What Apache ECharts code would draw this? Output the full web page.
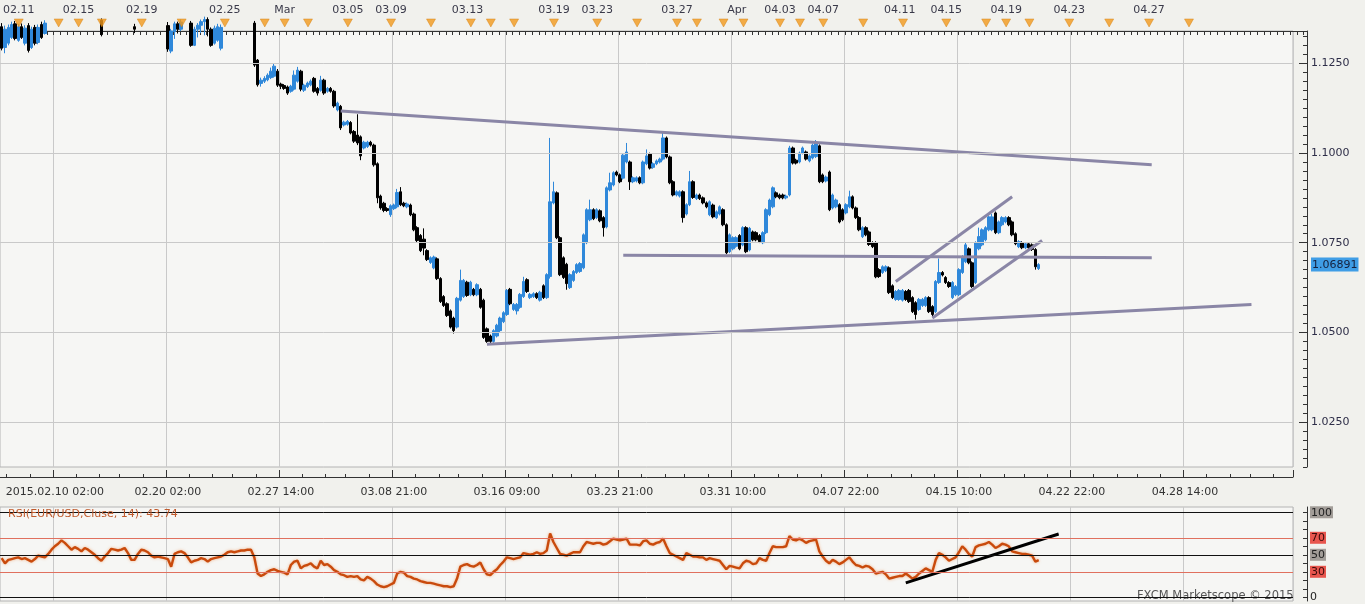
<!DOCTYPE html>
<html><head><meta charset="utf-8">
<script src="https://cdn.jsdelivr.net/npm/echarts@6/dist/echarts.min.js"></script>
<style>html,body{margin:0;padding:0;background:#f1f1ed;}#c{width:1365px;height:604px;}</style>
</head><body><div id="c"></div>
<script>
// [open, close, low, high] per 4h bar
const candles = [
[1.1352,1.1292,1.1286,1.1362],[1.1294,1.1345,1.1278,1.1355],[1.1306,1.1350,1.1300,1.1358],[1.1322,1.1358,1.1318,1.1366],
[1.1360,1.1319,1.1314,1.1368],[1.1314,1.1352,1.1310,1.1360],[1.1352,1.1322,1.1318,1.1361],[1.1306,1.1348,1.1300,1.1356],
[1.1355,1.1286,1.1280,1.1362],[1.1294,1.1345,1.1290,1.1352],[1.1350,1.1306,1.1300,1.1357],[1.1308,1.1350,1.1303,1.1358],
[1.1358,1.1322,1.1318,1.1366],[1.1333,1.1362,1.1330,1.1370],[1.1355,1.1372,1.1347,1.1380],[1.1372,1.1388,1.1365,1.1395],
[1.1388,1.1402,1.1380,1.1410],[1.1402,1.1395,1.1388,1.1412],[1.1395,1.1420,1.1390,1.1428],[1.1420,1.1410,1.1402,1.1430],
[1.1410,1.1432,1.1405,1.1440],[1.1432,1.1418,1.1410,1.1438],[1.1418,1.1405,1.1398,1.1425],[1.1405,1.1390,1.1382,1.1412],
[1.1390,1.1378,1.1370,1.1398],[1.1378,1.1385,1.1368,1.1392],[1.1385,1.1368,1.1360,1.1390],[1.1368,1.1375,1.1358,1.1382],
[1.1375,1.1362,1.1352,1.1380],[1.1362,1.1370,1.1350,1.1378],[1.1370,1.1330,1.1325,1.1375],[1.1348,1.1368,1.1342,1.1376],
[1.1368,1.1385,1.1360,1.1392],[1.1385,1.1378,1.1370,1.1395],[1.1378,1.1392,1.1372,1.1400],[1.1392,1.1380,1.1372,1.1398],
[1.1380,1.1366,1.1358,1.1388],[1.1366,1.1375,1.1360,1.1382],[1.1375,1.1360,1.1352,1.1380],[1.1360,1.1352,1.1345,1.1366],
[1.1352,1.1345,1.1334,1.1360],[1.1345,1.1360,1.1342,1.1368],[1.1360,1.1378,1.1355,1.1385],[1.1378,1.1390,1.1370,1.1398],
[1.1390,1.1382,1.1375,1.1400],[1.1382,1.1370,1.1362,1.1388],[1.1370,1.1380,1.1364,1.1388],[1.1380,1.1372,1.1365,1.1386],
[1.1372,1.1365,1.1356,1.1378],[1.1365,1.1358,1.1350,1.1370],[1.1355,1.1290,1.1282,1.1365],[1.1284,1.1340,1.1278,1.1346],
[1.1338,1.1360,1.1318,1.1366],[1.1360,1.1345,1.1333,1.1366],[1.1345,1.1365,1.1340,1.1372],[1.1365,1.1378,1.1358,1.1385],
[1.1378,1.1360,1.1352,1.1384],[1.1362,1.1300,1.1296,1.1368],[1.1300,1.1345,1.1298,1.1352],[1.1345,1.1356,1.1322,1.1362],
[1.1356,1.1366,1.1334,1.1372],[1.1366,1.1372,1.1328,1.1380],[1.1372,1.1345,1.1325,1.1378],[1.1345,1.1300,1.1296,1.1350],
[1.1306,1.1348,1.1302,1.1355],[1.1314,1.1352,1.1310,1.1360],[1.1292,1.1350,1.1286,1.1358],[1.1350,1.1372,1.1345,1.1380],
[1.1372,1.1390,1.1366,1.1398],[1.1390,1.1382,1.1374,1.1398],[1.1382,1.1395,1.1376,1.1402],[1.1395,1.1385,1.1378,1.1400],
[1.1385,1.1392,1.1380,1.1398],[1.1392,1.1378,1.1370,1.1396],[1.1378,1.1370,1.1362,1.1385],[1.1370,1.1362,1.1352,1.1378],
[1.1362,1.1245,1.1240,1.1368],[1.1259,1.1190,1.1185,1.1262],[1.1194,1.1203,1.1185,1.1210],[1.1200,1.1208,1.1195,1.1214],
[1.1204,1.1217,1.1200,1.1222],[1.1210,1.1228,1.1206,1.1238],[1.1214,1.1242,1.1210,1.1250],[1.1228,1.1189,1.1184,1.1234],
[1.1192,1.1186,1.1178,1.1196],[1.1188,1.1180,1.1176,1.1192],[1.1184,1.1167,1.1162,1.1188],[1.1172,1.1186,1.1168,1.1190],
[1.1178,1.1217,1.1174,1.1230],[1.1200,1.1231,1.1196,1.1240],[1.1228,1.1178,1.1172,1.1232],[1.1175,1.1189,1.1170,1.1193],
[1.1185,1.1195,1.1181,1.1199],[1.1190,1.1200,1.1186,1.1205],[1.1208,1.1172,1.1168,1.1212],[1.1180,1.1167,1.1160,1.1184],
[1.1175,1.1203,1.1171,1.1215],[1.1203,1.1167,1.1162,1.1207],[1.1172,1.1180,1.1168,1.1184],[1.1180,1.1172,1.1168,1.1184],
[1.1172,1.1131,1.1126,1.1176],[1.1120,1.1139,1.1116,1.1143],[1.1130,1.1070,1.1064,1.1134],[1.1078,1.1086,1.1074,1.1090],
[1.1080,1.1088,1.1076,1.1092],[1.1085,1.1056,1.1052,1.1089],[1.1060,1.1033,1.1028,1.1064],[1.1050,1.1028,1.1022,1.1108],
[1.1045,1.0992,1.0980,1.1049],[1.1014,1.1030,1.1010,1.1034],[1.1018,1.1030,1.1014,1.1034],[1.1030,1.1022,1.1018,1.1034],
[1.1022,1.0967,1.0962,1.1026],[1.0970,1.0875,1.0860,1.0974],[1.0880,1.0847,1.0842,1.0884],[1.0860,1.0840,1.0835,1.0864],
[1.0845,1.0840,1.0836,1.0849],[1.0828,1.0853,1.0822,1.0857],[1.0845,1.0855,1.0841,1.0859],[1.0850,1.0890,1.0846,1.0900],
[1.0892,1.0856,1.0852,1.0905],[1.0860,1.0853,1.0849,1.0864],[1.0850,1.0858,1.0846,1.0862],[1.0855,1.0828,1.0824,1.0859],
[1.0830,1.0786,1.0782,1.0834],[1.0792,1.0756,1.0752,1.0796],[1.0770,1.0728,1.0724,1.0774],[1.0760,1.0735,1.0715,1.0790],
[1.0728,1.0703,1.0699,1.0732],[1.0695,1.0708,1.0691,1.0712],[1.0680,1.0710,1.0676,1.0714],[1.0705,1.0650,1.0646,1.0709],
[1.0650,1.0586,1.0582,1.0654],[1.0600,1.0575,1.0571,1.0604],[1.0580,1.0547,1.0543,1.0584],[1.0560,1.0515,1.0511,1.0564],
[1.0540,1.0505,1.0497,1.0544],[1.0515,1.0595,1.0511,1.0599],[1.0590,1.0645,1.0586,1.0675],[1.0600,1.0645,1.0596,1.0649],
[1.0640,1.0603,1.0599,1.0644],[1.0605,1.0640,1.0601,1.0644],[1.0620,1.0605,1.0601,1.0624],[1.0605,1.0633,1.0601,1.0637],
[1.0620,1.0570,1.0566,1.0624],[1.0590,1.0486,1.0482,1.0594],[1.0510,1.0475,1.0471,1.0514],[1.0490,1.0475,1.0465,1.0494],
[1.0475,1.0505,1.0471,1.0509],[1.0490,1.0520,1.0486,1.0524],[1.0505,1.0540,1.0501,1.0544],[1.0530,1.0555,1.0526,1.0559],
[1.0550,1.0617,1.0546,1.0621],[1.0620,1.0580,1.0576,1.0624],[1.0564,1.0578,1.0560,1.0582],[1.0560,1.0578,1.0550,1.0582],
[1.0570,1.0606,1.0566,1.0610],[1.0600,1.0642,1.0596,1.0655],[1.0647,1.0614,1.0610,1.0651],[1.0597,1.0606,1.0593,1.0610],
[1.0600,1.0608,1.0596,1.0612],[1.0608,1.0597,1.0593,1.0612],[1.0590,1.0612,1.0586,1.0616],[1.0630,1.0597,1.0593,1.0634],
[1.0597,1.0661,1.0593,1.0665],[1.0656,1.0864,1.0650,1.1042],[1.0861,1.0892,1.0857,1.0920],[1.0889,1.0764,1.0760,1.0893],
[1.0764,1.0661,1.0657,1.0768],[1.0708,1.0653,1.0649,1.0712],[1.0690,1.0636,1.0619,1.0694],[1.0625,1.0661,1.0621,1.0665],
[1.0645,1.0670,1.0641,1.0674],[1.0667,1.0689,1.0663,1.0693],[1.0670,1.0692,1.0666,1.0696],[1.0680,1.0772,1.0676,1.0776],
[1.0750,1.0842,1.0746,1.0846],[1.0814,1.0842,1.0810,1.0870],[1.0842,1.0817,1.0813,1.0846],[1.0820,1.0842,1.0816,1.0846],
[1.0839,1.0811,1.0807,1.0843],[1.0820,1.0792,1.0767,1.0824],[1.0794,1.0903,1.0790,1.0907],[1.0897,1.0917,1.0893,1.0945],
[1.0911,1.0945,1.0907,1.0949],[1.0947,1.0939,1.0935,1.0951],[1.0939,1.0920,1.0916,1.0943],[1.0930,1.0994,1.0926,1.0998],
[1.0975,1.1003,1.0971,1.1028],[1.0975,1.0920,1.0897,1.0979],[1.0920,1.0931,1.0916,1.0935],[1.0922,1.0931,1.0918,1.0935],
[1.0931,1.0917,1.0913,1.0935],[1.0917,1.0975,1.0913,1.0979],[1.0970,1.0992,1.0966,1.1010],[1.0997,1.0958,1.0954,1.1001],
[1.0960,1.0970,1.0956,1.0974],[1.0970,1.0978,1.0966,1.0982],[1.0975,1.0983,1.0971,1.0987],[1.0983,1.1042,1.0979,1.1058],
[1.1042,1.0989,1.0985,1.1046],[1.0989,1.0917,1.0913,1.0993],[1.0920,1.0883,1.0879,1.0924],[1.0883,1.0892,1.0879,1.0896],
[1.0880,1.0892,1.0876,1.0896],[1.0892,1.0820,1.0806,1.0896],[1.0830,1.0856,1.0826,1.0860],[1.0856,1.0920,1.0852,1.0950],
[1.0920,1.0876,1.0872,1.0924],[1.0873,1.0883,1.0869,1.0887],[1.0883,1.0873,1.0869,1.0887],[1.0875,1.0861,1.0857,1.0879],
[1.0861,1.0850,1.0846,1.0865],[1.0828,1.0864,1.0824,1.0868],[1.0855,1.0822,1.0818,1.0859],[1.0820,1.0836,1.0816,1.0840],
[1.0830,1.0850,1.0826,1.0854],[1.0842,1.0800,1.0796,1.0846],[1.0800,1.0722,1.0718,1.0804],[1.0725,1.0772,1.0721,1.0776],
[1.0733,1.0764,1.0729,1.0768],[1.0740,1.0764,1.0736,1.0768],[1.0770,1.0733,1.0729,1.0774],[1.0744,1.0792,1.0740,1.0796],
[1.0792,1.0725,1.0721,1.0796],[1.0730,1.0790,1.0726,1.0794],[1.0780,1.0758,1.0754,1.0784],[1.0778,1.0758,1.0754,1.0782],
[1.0770,1.0753,1.0749,1.0774],[1.0750,1.0778,1.0746,1.0782],[1.0778,1.0842,1.0774,1.0846],[1.0828,1.0869,1.0824,1.0873],
[1.0850,1.0903,1.0846,1.0907],[1.0889,1.0878,1.0874,1.0893],[1.0883,1.0875,1.0871,1.0887],[1.0883,1.0875,1.0871,1.0887],
[1.0875,1.0880,1.0871,1.0884],[1.0883,1.1014,1.0879,1.1020],[1.1014,1.0972,1.0968,1.1018],[1.0980,1.0972,1.0968,1.0984],
[1.0975,1.1000,1.0971,1.1004],[1.1000,1.1014,1.0996,1.1018],[1.1003,1.0983,1.0979,1.1007],[1.0978,1.0992,1.0974,1.0996],
[1.0986,1.1022,1.0982,1.1026],[1.0990,1.1030,1.0986,1.1036],[1.1020,1.0920,1.0916,1.1024],[1.0939,1.0920,1.0916,1.0943],
[1.0922,1.0933,1.0918,1.0937],[1.0947,1.0842,1.0838,1.0951],[1.0847,1.0883,1.0843,1.0887],[1.0850,1.0869,1.0846,1.0873],
[1.0856,1.0808,1.0804,1.0860],[1.0842,1.0814,1.0810,1.0846],[1.0833,1.0856,1.0829,1.0860],[1.0850,1.0878,1.0846,1.0895],
[1.0878,1.0847,1.0843,1.0882],[1.0847,1.0820,1.0816,1.0851],[1.0820,1.0786,1.0782,1.0824],[1.0767,1.0792,1.0763,1.0796],
[1.0792,1.0772,1.0768,1.0796],[1.0780,1.0745,1.0741,1.0784],[1.0750,1.0739,1.0735,1.0754],[1.0750,1.0655,1.0651,1.0754],
[1.0675,1.0656,1.0652,1.0679],[1.0667,1.0683,1.0663,1.0687],[1.0672,1.0683,1.0668,1.0687],[1.0680,1.0611,1.0607,1.0684],
[1.0630,1.0597,1.0593,1.0634],[1.0592,1.0614,1.0588,1.0618],[1.0592,1.0617,1.0588,1.0621],[1.0590,1.0617,1.0586,1.0621],
[1.0614,1.0592,1.0588,1.0618],[1.0617,1.0586,1.0582,1.0621],[1.0597,1.0558,1.0554,1.0601],[1.0583,1.0550,1.0536,1.0587],
[1.0564,1.0592,1.0560,1.0596],[1.0575,1.0592,1.0571,1.0596],[1.0575,1.0597,1.0571,1.0601],[1.0597,1.0558,1.0554,1.0601],
[1.0572,1.0550,1.0544,1.0576],[1.0558,1.0642,1.0554,1.0646],[1.0639,1.0667,1.0635,1.0706],[1.0667,1.0660,1.0656,1.0671],
[1.0653,1.0639,1.0635,1.0657],[1.0639,1.0628,1.0624,1.0643],[1.0597,1.0639,1.0593,1.0643],[1.0605,1.0628,1.0601,1.0632],
[1.0605,1.0675,1.0601,1.0679],[1.0667,1.0711,1.0663,1.0715],[1.0697,1.0744,1.0693,1.0750],[1.0733,1.0694,1.0690,1.0737],
[1.0694,1.0628,1.0624,1.0698],[1.0639,1.0750,1.0635,1.0754],[1.0733,1.0767,1.0729,1.0792],[1.0744,1.0786,1.0740,1.0790],
[1.0758,1.0792,1.0754,1.0796],[1.0786,1.0822,1.0782,1.0826],[1.0786,1.0822,1.0782,1.0830],[1.0833,1.0778,1.0774,1.0837],
[1.0778,1.0808,1.0774,1.0812],[1.0800,1.0820,1.0796,1.0824],[1.0808,1.0820,1.0804,1.0824],[1.0820,1.0800,1.0796,1.0824],
[1.0808,1.0772,1.0768,1.0812],[1.0775,1.0747,1.0743,1.0779],[1.0739,1.0753,1.0735,1.0757],[1.0750,1.0736,1.0732,1.0754],
[1.0736,1.0747,1.0732,1.0751],[1.0747,1.0736,1.0732,1.0751],[1.0744,1.0731,1.0727,1.0748],[1.0731,1.0683,1.0675,1.0735],
[1.0678,1.06891,1.0674,1.0693]
];
const rsi = [
46,40,44,45,46,47,45,46,44,42,45,49,48,47,51,56,60,63,67,64,
60,56,59,57,54,58,56,53,50,46,43,48,52,57,56,55,56,58,52,44,
44,51,56,55,53,49,47,48,47,46,45,36,51,53,54,52,47,41,43,44,
46,45,42,45,46,47,48,50,53,54,53,54,55,55,56,56,47,28,25,27,
30,32,33,31,30,29,27,38,42,43,34,37,38,40,36,34,43,38,39,36,
32,30,27,26,24,25,24,25,21,20,24,22,19,15,13,12,13,15,17,28,
30,29,25,24,22,21,19,18,17,17,16,15,14,13,13,12,13,22,36,38,
39,37,36,38,41,33,27,26,30,33,38,42,47,46,45,46,47,52,51,50,
51,53,51,52,55,75,65,58,51,50,49,51,53,53,53,60,65,64,63,64,
64,62,63,66,69,68,67,68,69,62,62,62,61,66,67,63,62,64,65,69,
60,52,50,48,46,44,52,50,48,48,47,47,44,46,45,44,43,38,33,37,
36,35,34,40,43,42,39,40,46,44,43,52,60,59,59,59,60,72,68,67,
69,67,64,66,67,68,54,48,43,40,44,42,39,41,44,47,42,38,37,35,
37,36,33,28,29,30,27,22,23,24,25,25,28,25,22,24,28,31,34,32,
30,44,52,50,47,43,45,47,53,60,56,51,48,59,61,62,63,65,62,58,
60,63,62,60,54,53,52,51,51,50,49,42,43.74
];
const priceTicks = [1.025, 1.05, 1.075, 1.1, 1.125];
const lastPrice = 1.06891;
const bottomLabels = ['2015.02.10 02:00','02.20 02:00','02.27 14:00','03.08 21:00','03.16 09:00','03.23 21:00','03.31 10:00','04.07 22:00','04.15 10:00','04.22 22:00','04.28 14:00'];
const bottomLabelIdx = [16,50,84,118,152,186,220,254,288,322,356];
const topLabels = ['02.11','02.15','02.19','02.25','Mar','03.05','03.09','03.13','03.19','03.23','03.27','Apr','04.03','04.07','04.11','04.15','04.19','04.23','04.27'];
const topLabelIdx = [5,23,42,67,85,104,117,140,166,179,203,221,234,247,270,284,302,321,345];
const eventIdx = [5,17,23,30,42,54,67,79,85,92,104,117,129,141,147,154,166,179,191,203,209,217,223,234,240,247,259,271,284,296,302,309,321,333,345,357];
const trendLines = [
  [[102,1.1117],[346,1.0967]],
  [[187,1.0715],[346,1.0708]],
  [[146,1.0467],[376,1.0578]],
  [[269,1.0642],[304,1.0878]],
  [[280,1.0540],[313,1.0756]]
];
const rsiTrend = [[272,17],[318,74.5]];
const rsiLevels = [100,70,50,30,0];
const rsiLabelVals = [0,30,50,70,100];

const N_MAIN = 389, N_TOP = 393;
const cats = Array.from({length:N_MAIN},(_,i)=>String(i));
const topCats = Array.from({length:N_TOP},(_,i)=>String(i));
const FONT = 'DejaVu Sans';
const isGrid = i => bottomLabelIdx.indexOf(i) >= 0;
const isMinor = i => [7,14,20,27].indexOf(((i-16)%34+34)%34) >= 0;
const GRIDC = '#c9c9c9';

const chart = echarts.init(document.getElementById('c'));
chart.setOption({
  animation:false,
  backgroundColor:'#f1f1ed',
  title:{text:'RSI(EUR/USD,Cluse, 14): 43.74', left:8, top:509, padding:0,
    textStyle:{color:'#c05a2c', fontSize:11, fontWeight:'normal', fontFamily:FONT}},
  graphic:[{type:'text', left:1137, top:590, style:{text:'FXCM Marketscope © 2015', fill:'#555', font:'11.5px "DejaVu Sans"'}}],
  grid:[
    {left:-1, top:31, width:1294, height:436, show:true, backgroundColor:'#f6f6f4', borderColor:'#b4b4b4', borderWidth:1},
    {left:-1, top:507, width:1294, height:94, show:true, backgroundColor:'#f6f6f4', borderColor:'#b4b4b4', borderWidth:1},
    {left:-1, top:19, width:1308, height:12, show:false}
  ],
  xAxis:[
    {type:'category', gridIndex:0, data:cats, position:'bottom', offset:10,
      axisLine:{show:true, lineStyle:{color:'#333'}},
      axisTick:{show:true, inside:true, length:7, interval:isGrid, lineStyle:{color:'#333'}},
      axisLabel:{interval:isGrid, formatter:(v,i)=>bottomLabels[bottomLabelIdx.indexOf(+v)]||'', margin:10, color:'#333', fontSize:11, fontFamily:FONT},
      splitLine:{show:true, interval:isGrid, lineStyle:{color:GRIDC, width:1}}},
    {type:'category', gridIndex:0, data:cats, position:'bottom', offset:10,
      axisLine:{show:false}, axisTick:{show:true, inside:true, length:3, interval:isMinor, lineStyle:{color:'#333'}},
      axisLabel:{show:false}, splitLine:{show:false}},
    {type:'category', gridIndex:1, data:cats, position:'bottom',
      axisLine:{show:false}, axisTick:{show:false}, axisLabel:{show:false},
      splitLine:{show:true, interval:isGrid, lineStyle:{color:GRIDC, width:1}}},
    {type:'category', gridIndex:2, data:topCats, position:'top',
      axisLine:{show:true, lineStyle:{color:'#333'}},
      axisTick:{show:true, inside:true, length:4, interval:1, lineStyle:{color:'#333'}},
      axisLabel:{interval:(i)=>topLabelIdx.indexOf(i)>=0, formatter:(v)=>topLabels[topLabelIdx.indexOf(+v)]||'', margin:3, color:'#3a3a4a', fontSize:11, fontFamily:FONT},
      splitLine:{show:false}}
  ],
  yAxis:[
    {type:'value', gridIndex:0, min:1.0125, max:1.134, interval:0.0025, position:'right', offset:14,
      axisLine:{show:true, lineStyle:{color:'#333'}},
      axisTick:{show:true, inside:true, length:4, lineStyle:{color:'#333'}},
      axisLabel:{show:false}, splitLine:{show:false}},
    {type:'value', gridIndex:0, min:1.0125, max:1.134, position:'right', offset:14,
      axisLine:{show:false},
      axisTick:{show:true, inside:true, length:8, customValues:priceTicks, lineStyle:{color:'#333'}},
      axisLabel:{customValues:priceTicks.concat([lastPrice]), margin:4, color:'#2e2e48', fontSize:11, fontFamily:FONT,
        formatter:(v)=> Math.abs(v-lastPrice)<1e-9 ? '{cur|'+lastPrice.toFixed(5)+'}' : v.toFixed(4),
        rich:{cur:{backgroundColor:'#3f9de6', color:'#15203c', fontSize:11, fontFamily:FONT, padding:[2,1,1,1]}}},
      splitLine:{show:false}},
    {type:'value', gridIndex:1, min:-4.35, max:106.2, position:'right', offset:14,
      axisLine:{show:true, lineStyle:{color:'#333'}},
      axisTick:{show:true, inside:true, length:4, customValues:[0,10,20,30,40,50,60,70,80,90,100], lineStyle:{color:'#333'}},
      axisLabel:{customValues:rsiLabelVals, margin:3, fontSize:11, fontFamily:FONT, color:'#222',
        formatter:(v)=> v===100||v===50 ? '{g|'+v+'}' : (v===70||v===30 ? '{r|'+v+'}' : String(v)),
        rich:{g:{backgroundColor:'#a29d98', color:'#222', padding:[1,1,0,1], fontSize:11, fontFamily:FONT},
              r:{backgroundColor:'#e8564e', color:'#3a0a0a', padding:[1,1,0,1], fontSize:11, fontFamily:FONT}}},
      splitLine:{show:false}},
    {type:'value', gridIndex:2, min:0, max:1, show:false}
  ],
  series:[
    {type:'line', xAxisIndex:0, yAxisIndex:0, data:[], z:1, silent:true,
      markLine:{silent:true, precision:6, symbol:['none','none'], label:{show:false}, animation:false,
        lineStyle:{color:GRIDC, width:1, type:'solid'}, data:priceTicks.map(v=>({yAxis:v}))}},
    {type:'candlestick', xAxisIndex:0, yAxisIndex:0, data:candles, barWidth:3, clip:true, z:2,
      itemStyle:{color:'#2f88da', color0:'#000000', borderColor:'#2f88da', borderColor0:'#000000', borderWidth:1}},
  ].concat(trendLines.map(tl=>({type:'line', xAxisIndex:0, yAxisIndex:0, data:tl, symbol:'none', z:3, silent:true,
      lineStyle:{color:'#8a86a6', width:3}}))).concat([
    {type:'line', xAxisIndex:2, yAxisIndex:2, data:[], z:1, silent:true,
      markLine:{silent:true, precision:6, symbol:['none','none'], label:{show:false}, animation:false,
        data:rsiLevels.map(v=>({yAxis:v, lineStyle:{color:(v===70||v===30)?'#e0705e':'#111', width:1, type:'solid'}}))}},
    {type:'line', xAxisIndex:2, yAxisIndex:2, data:rsi, symbol:'none', z:3, silent:true,
      lineStyle:{color:'#c94a0c', width:2.4, shadowColor:'rgba(240,150,90,0.7)', shadowBlur:3}},
    {type:'line', xAxisIndex:2, yAxisIndex:2, data:rsiTrend, symbol:'none', z:4, silent:true,
      lineStyle:{color:'#000', width:3}},
    {type:'scatter', xAxisIndex:3, yAxisIndex:3, data:eventIdx.map(i=>[i,0.67]), symbol:'triangle', symbolRotate:180,
      symbolSize:[9,8], z:3, silent:true, itemStyle:{color:'#f29a1c', borderColor:'#d27a08', borderWidth:0.5}}
  ])
});
</script></body></html>
